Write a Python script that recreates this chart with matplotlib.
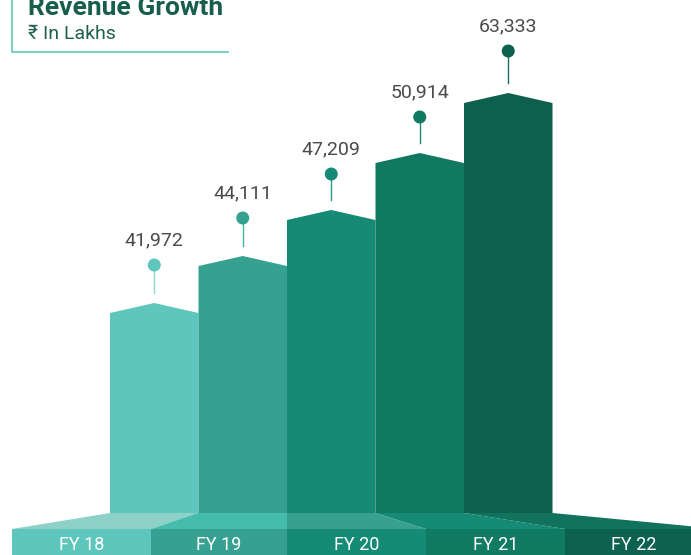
#Revenue growth infographic
import matplotlib.pyplot as plt
from matplotlib.patches import Polygon, Circle

plt.rcParams['font.family'] = ['Roboto', 'DejaVu Sans']

years = ['FY 18', 'FY 19', 'FY 20', 'FY 21', 'FY 22']
revenue = [41972, 44111, 47209, 50914, 63333]
# drawn height of each column (pixels above the floor), as shown in the picture
shown = [210, 257, 303, 360, 420]

bar_col = ['#5ec6bc', '#36a190', '#168a74', '#117962', '#0d5f4e']
floor_col = ['#8dd1c8', '#45bcae', '#37a08f', '#158a74', '#11725d']
band_col = ['#5ec6bc', '#36a190', '#158a74', '#117a62', '#0d6150']
line_col = ['#8dd8cf', '#45b3a2', '#2a9a84', '#1d8a72', '#1b6f5c']
pin_gap = [38, 38, 36, 36, 42]

fig = plt.figure(figsize=(6.91, 5.55), dpi=100)
ax = fig.add_axes([0, 0, 1, 1])
ax.set_xlim(0, 691)
ax.set_ylim(555, 0)
ax.axis('off')

base = 513
floor_y = 529
x0 = 110
w = 88.5
band_edges = [12, 151, 287, 426, 565, 720]

for i, (yr, val, h) in enumerate(zip(years, revenue, shown)):
    l = x0 + i*w
    r = l + w
    c = (l + r)/2
    peak = base - h
    shoulder = peak + 10
    # floor piece
    ax.add_patch(Polygon([(l, base), (r, base), (band_edges[i+1], floor_y), (band_edges[i], floor_y)],
                         closed=True, fc=floor_col[i], ec='none', zorder=2))
    # column
    ax.add_patch(Polygon([(l, base), (l, shoulder), (c, peak), (r, shoulder), (r, base)],
                         closed=True, fc=bar_col[i], ec='none', zorder=3))
    # label band
    ax.add_patch(Polygon([(band_edges[i], floor_y), (band_edges[i+1], floor_y),
                          (band_edges[i+1], 555), (band_edges[i], 555)],
                         closed=True, fc=band_col[i], ec='none', zorder=2))
    ax.text((band_edges[i] + min(band_edges[i+1], 691))/2 + (6 if i == 4 else 0), 545, yr,
            color='white', fontsize=13, ha='center', va='center', zorder=5)
    # pin
    cy = peak - pin_gap[i]
    ax.plot([c, c], [cy, peak - 10], color=line_col[i], lw=1.0, zorder=3)
    ax.add_patch(Circle((c, cy), 6.5, fc=bar_col[i], ec='none', zorder=4))
    ax.text(c, cy - 20, f'{val:,}', color='#4a4a4a', fontsize=14, ha='center', va='baseline',
            zorder=5)

# title box
ax.plot([12, 12, 229], [0, 52, 52], color='#7fd0c4', lw=1.5, solid_capstyle='butt')
ax.text(28, 15, 'Revenue Growth', color='#175f4b', fontsize=19, fontweight='bold', va='baseline')
ax.text(28, 39, '₹ In Lakhs', color='#1f5f4e', fontsize=14, va='baseline')

plt.savefig('out.png', dpi=100)
